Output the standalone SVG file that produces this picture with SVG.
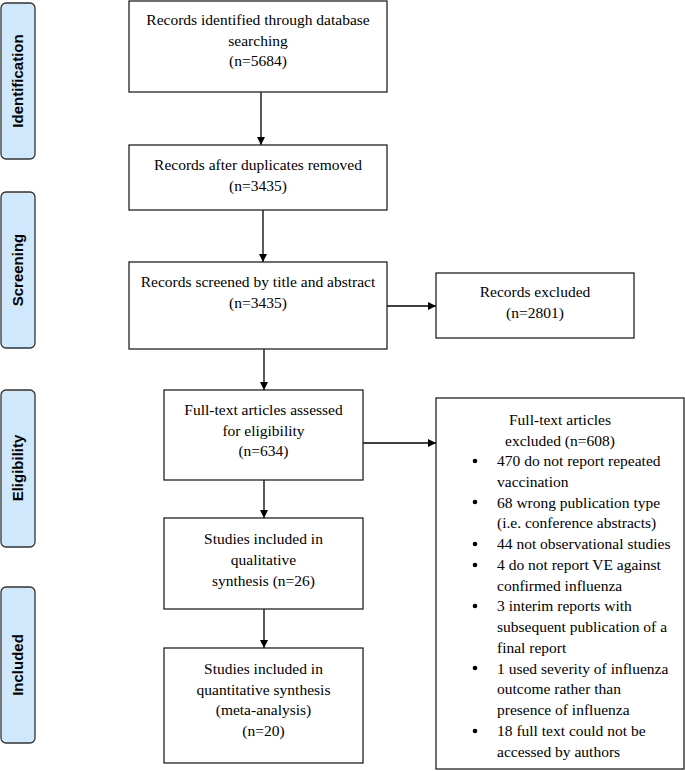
<svg xmlns="http://www.w3.org/2000/svg" width="685" height="771" viewBox="0 0 685 771">
<style>
.stage{fill:#cfe8fb;stroke:#333;stroke-width:1.3}
.stxt{font-family:"Liberation Sans",Arial,sans-serif;font-weight:bold;font-size:15px;fill:#000;text-anchor:middle}
.box{fill:#fff;stroke:#222;stroke-width:1.3}
.t{font-family:"Liberation Serif","Times New Roman",serif;font-size:15.5px;fill:#000;text-anchor:middle}
.l{font-family:"Liberation Serif","Times New Roman",serif;font-size:15.5px;fill:#000}
.conn{stroke:#000;stroke-width:1.3;fill:none;marker-end:url(#ah)}
</style>
<defs>
<marker id="ah" viewBox="0 0 10 10" refX="10" refY="5" markerWidth="8" markerHeight="8" markerUnits="userSpaceOnUse" orient="auto">
<path d="M0,0 L10,5 L0,10 z" fill="#000"/>
</marker>
</defs>
<rect width="685" height="771" fill="#fff"/>
<g id="stage-identification"><rect class="stage" x="1" y="3" width="34" height="156" rx="5"/><text class="stxt" transform="translate(23,81) rotate(-90)">Identification</text></g>
<g id="stage-screening"><rect class="stage" x="1" y="192" width="34" height="156" rx="5"/><text class="stxt" transform="translate(23,270) rotate(-90)">Screening</text></g>
<g id="stage-eligibility"><rect class="stage" x="1" y="390" width="34" height="157" rx="5"/><text class="stxt" transform="translate(23,468) rotate(-90)">Eligibility</text></g>
<g id="stage-included"><rect class="stage" x="1" y="587" width="34" height="156" rx="5"/><text class="stxt" transform="translate(23,665) rotate(-90)">Included</text></g>

<g id="connectors">
<line class="conn" x1="261" y1="92" x2="261" y2="145"/>
<line class="conn" x1="263" y1="210" x2="263" y2="262"/>
<line class="conn" x1="264" y1="349" x2="264" y2="390"/>
<line class="conn" x1="264" y1="480" x2="264" y2="518"/>
<line class="conn" x1="264" y1="609" x2="264" y2="648"/>
<line class="conn" x1="387" y1="306" x2="436" y2="306"/>
<line class="conn" x1="363" y1="443" x2="436" y2="443"/>
</g>

<g id="n-identified"><rect class="box" x="129" y="1" width="258" height="91"/>
<text class="t" x="258" y="25">Records identified through database</text>
<text class="t" x="258" y="45.5">searching</text>
<text class="t" x="258" y="66">(n=5684)</text></g>

<g id="n-dedup"><rect class="box" x="129" y="145" width="258" height="65"/>
<text class="t" x="258" y="170">Records after duplicates removed</text>
<text class="t" x="258" y="191">(n=3435)</text></g>

<g id="n-screened"><rect class="box" x="129" y="262" width="258" height="87"/>
<text class="t" x="258" y="287">Records screened by title and abstract</text>
<text class="t" x="258" y="308">(n=3435)</text></g>

<g id="n-excluded"><rect class="box" x="436" y="273" width="198" height="65"/>
<text class="t" x="535" y="297">Records excluded</text>
<text class="t" x="535" y="318">(n=2801)</text></g>

<g id="n-fulltext"><rect class="box" x="164" y="390" width="199" height="90"/>
<text class="t" x="263.5" y="415">Full-text articles assessed</text>
<text class="t" x="263.5" y="435.5">for eligibility</text>
<text class="t" x="263.5" y="456">(n=634)</text></g>

<g id="n-fulltext-excluded"><rect class="box" x="436" y="398" width="248" height="371"/>
<text class="t" x="560" y="425">Full-text articles</text>
<text class="t" x="560" y="445.5">excluded (n=608)</text>
<g fill="#000">
<circle cx="475" cy="461" r="2.3"/><circle cx="475" cy="502" r="2.3"/><circle cx="475" cy="544" r="2.3"/><circle cx="475" cy="565" r="2.3"/><circle cx="475" cy="606" r="2.3"/><circle cx="475" cy="668" r="2.3"/><circle cx="475" cy="731" r="2.3"/>
</g>
<text class="l" x="497" y="466">470 do not report repeated</text>
<text class="l" x="497" y="487">vaccination</text>
<text class="l" x="497" y="507.5">68 wrong publication type</text>
<text class="l" x="497" y="528">(i.e. conference abstracts)</text>
<text class="l" x="497" y="549">44 not observational studies</text>
<text class="l" x="497" y="570">4 do not report VE against</text>
<text class="l" x="497" y="590.5">confirmed influenza</text>
<text class="l" x="497" y="611">3 interim reports with</text>
<text class="l" x="497" y="632">subsequent publication of a</text>
<text class="l" x="497" y="653">final report</text>
<text class="l" x="497" y="673.5">1 used severity of influenza</text>
<text class="l" x="497" y="694">outcome rather than</text>
<text class="l" x="497" y="715">presence of influenza</text>
<text class="l" x="497" y="736">18 full text could not be</text>
<text class="l" x="497" y="756.5">accessed by authors</text></g>

<g id="n-qualitative"><rect class="box" x="164" y="518" width="199" height="91"/>
<text class="t" x="263.5" y="544">Studies included in</text>
<text class="t" x="263.5" y="565">qualitative</text>
<text class="t" x="263.5" y="586">synthesis (n=26)</text></g>

<g id="n-quantitative"><rect class="box" x="164" y="648" width="199" height="115"/>
<text class="t" x="263.5" y="674">Studies included in</text>
<text class="t" x="263.5" y="694.5">quantitative synthesis</text>
<text class="t" x="263.5" y="715">(meta-analysis)</text>
<text class="t" x="263.5" y="735.5">(n=20)</text></g>
</svg>
